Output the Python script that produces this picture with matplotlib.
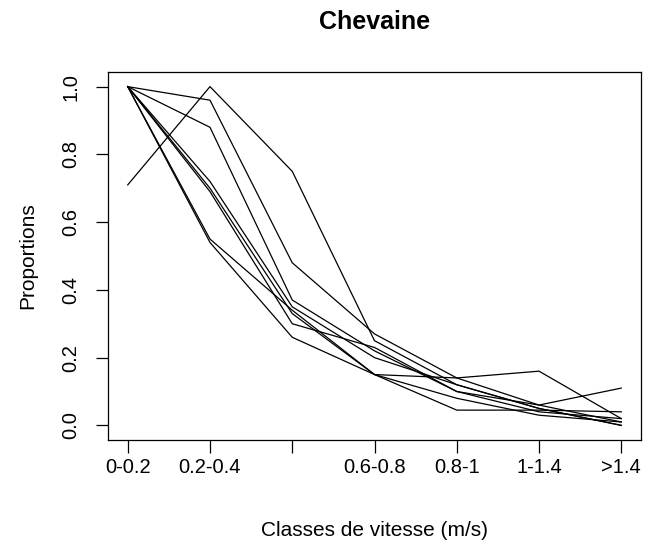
import matplotlib
matplotlib.use("Agg")
import matplotlib.pyplot as plt

classes = ["0-0.2", "0.2-0.4", "0.4-0.6", "0.6-0.8", "0.8-1", "1-1.4", ">1.4"]
# R dropped the 0.4-0.6 label because it overlapped
tick_labels = ["0-0.2", "0.2-0.4", "", "0.6-0.8", "0.8-1", "1-1.4", ">1.4"]

serie1 = [0.71, 1.00, 0.75, 0.25, 0.12, 0.05, 0.00]
serie2 = [1.00, 0.96, 0.48, 0.27, 0.14, 0.06, 0.01]
serie3 = [1.00, 0.88, 0.37, 0.22, 0.10, 0.04, 0.02]
serie4 = [1.00, 0.72, 0.35, 0.20, 0.12, 0.05, 0.00]
serie5 = [1.00, 0.69, 0.30, 0.23, 0.10, 0.06, 0.11]
serie6 = [1.00, 0.55, 0.34, 0.15, 0.045, 0.045, 0.04]
serie7 = [1.00, 0.54, 0.26, 0.15, 0.14, 0.16, 0.02]
serie8 = [1.00, 0.70, 0.33, 0.15, 0.08, 0.03, 0.01]
series = [serie1, serie2, serie3, serie4, serie5, serie6, serie7, serie8]

plt.rcParams['font.family'] = ['Liberation Sans', 'DejaVu Sans']

fig = plt.figure(figsize=(6.5, 5.52), dpi=100)
ax = fig.add_axes([108/650, 112/552, 533/650, 368/552])

x = list(range(1, len(classes) + 1))
for s in series:
    ax.plot(x, s, color='black', lw=0.9)

ax.set_xlim(1 - 0.24, 7 + 0.24)
ax.set_ylim(-0.0432, 1.0432)
ax.set_xticks(x)
ax.set_xticklabels(tick_labels, fontsize=14.5)
ax.set_yticks([0.0, 0.2, 0.4, 0.6, 0.8, 1.0])
ax.set_yticklabels(["0.0", "0.2", "0.4", "0.6", "0.8", "1.0"], fontsize=14.5,
                   rotation=90, va='center')
ax.tick_params(length=9, width=0.9, color='black')
ax.tick_params(axis='x', pad=4)
ax.tick_params(axis='y', pad=11)
for sp in ax.spines.values():
    sp.set_linewidth(0.9)

fig.text(374.5/650, 1 - 22/552, "Chevaine", ha='center', va='center',
         fontsize=18, fontweight='bold')
fig.text(374.5/650, 1 - 530/552, "Classes de vitesse (m/s)", ha='center',
         va='center', fontsize=15)
fig.text(28/650, 1 - 256/552, "Proportions", ha='center', va='center',
         rotation=90, fontsize=15)

fig.savefig("out.png", dpi=100)
